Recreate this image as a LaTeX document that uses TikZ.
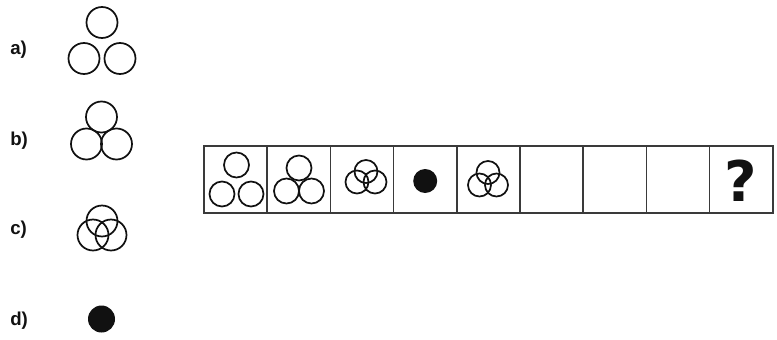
\documentclass[tikz,border=0pt]{standalone}
\usepackage{fontspec}
\setmainfont{Liberation Sans}
\newfontfamily\heavyfont{DejaVu Sans}
\usetikzlibrary{positioning}
\definecolor{Ink}{HTML}{111111}
\definecolor{Frame}{HTML}{3A3A3A}
\tikzset{
  ring/.style={draw=Ink, line width=1.3pt},
  dot/.style={fill=Ink},
  cell/.style={draw=Frame, line width=1.1pt, minimum width=47.4pt, minimum height=50.25pt, inner sep=0pt, outer sep=0pt},
  tag/.style={anchor=west, font=\bfseries\fontsize{14}{14}\selectfont, text=Ink, inner sep=0pt}
}
% three rings: centre x, centre y, top lift, bottom drop, half spread, radius
\newcommand{\ringtrio}[6]{
  \draw[ring] (#1,#2-#3) circle (#6);
  \draw[ring] (#1-#5,#2+#4) circle (#6);
  \draw[ring] (#1+#5,#2+#4) circle (#6);
}
\begin{document}
\begin{tikzpicture}[x=0.75pt,y=-0.75pt]
\useasboundingbox (0,0) rectangle (777,339);
% answer choices on the left
\node[tag] (la) at (10,50){a)};
\node[tag] (lb) at (10,141){b)};
\node[tag] (lc) at (10,230){c)};
\node[tag] (ld) at (10,321){d)};
\ringtrio{102}{40.5}{18}{18}{18}{15.5}
\ringtrio{101.5}{130.5}{13.5}{13.5}{15}{15.5}
\ringtrio{102}{228}{7}{7}{9}{15.5}
\fill[dot] (101.5,319) circle (13.5);
% the strip of nine cells
\node[cell] (c1) at (235.6,179.5){};
\foreach \i [evaluate=\i as \j using int(\i-1)] in {2,...,9}
  \node[cell, right=0pt of c\j] (c\i){};
\ringtrio{236.5}{179.5}{14.5}{14.5}{14.5}{12.5}
\ringtrio{299}{179.5}{11.5}{11.5}{12.5}{12.5}
\ringtrio{366}{177}{5.5}{5}{9}{11.5}
\fill[dot] (c4.center) ++(0,1.5) circle (12);
\ringtrio{488}{179}{6.5}{6}{8.5}{11.5}
\node[font=\heavyfont\bfseries\fontsize{42}{42}\selectfont, text=Ink] (qm) at ([yshift=-1pt]c9.center){?};
\end{tikzpicture}
\end{document}
